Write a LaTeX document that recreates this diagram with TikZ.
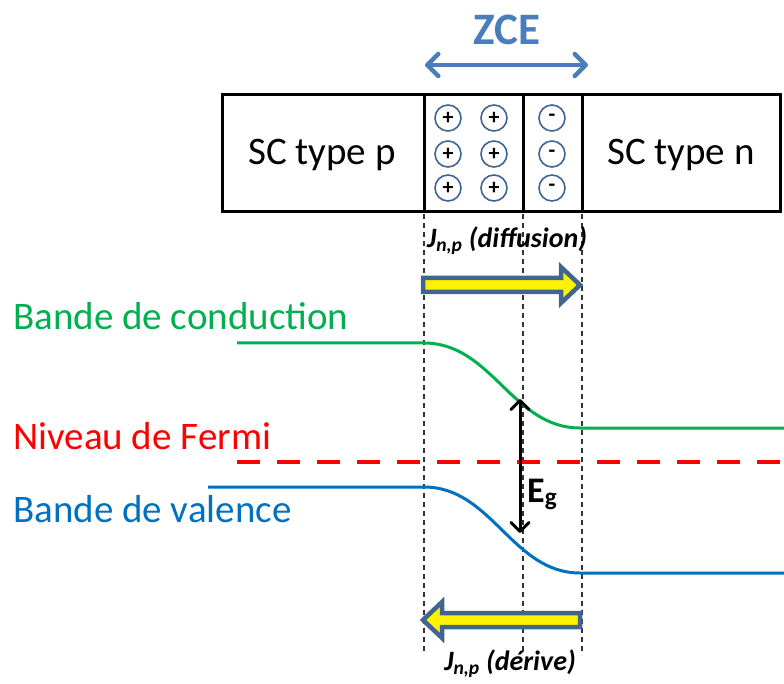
\documentclass[tikz,border=0pt]{standalone}
\usepackage{fontspec}
\setmainfont{Carlito}
\usetikzlibrary{arrows.meta}
\definecolor{zceblue}{HTML}{4A7EBB}
\definecolor{circblue}{HTML}{3F6596}
\definecolor{arrblue}{HTML}{41658F}
\definecolor{cgreen}{HTML}{00B050}
\definecolor{vblue}{HTML}{0070C0}
\definecolor{fred}{HTML}{FF0000}
\begin{document}
\begin{tikzpicture}[x=1pt,y=-1pt,
  lbl/.style={font=\fontsize{39}{44}\selectfont, inner sep=0pt},
  chg/.style={circle, draw=circblue, line width=1.6pt, minimum size=26pt, inner sep=0pt, font=\fontsize{22}{22}\selectfont\bfseries},
  guide/.style={draw=black!80, line width=1.2pt, dash pattern=on 5pt off 4pt},
  jlbl/.style={font=\fontsize{28}{30}\selectfont\bfseries\itshape, inner sep=0pt},
  blockarr/.style={draw=arrblue, fill=yellow, line width=4.5pt, line join=miter},
  band/.style={line width=3pt}
]
\useasboundingbox (0,0) rectangle (784,684);

% ZCE
\node[font=\fontsize{45}{50}\selectfont\bfseries, text=zceblue, inner sep=0pt] (zce) at (507,30) {ZCE};
\coordinate (zl) at (425,65);
\coordinate (zr) at (588,65);
\draw[zceblue, line width=4.5pt, line cap=round, {Straight Barb[length=11pt,width=22pt,line cap=round,line join=round]}-{Straight Barb[length=11pt,width=22pt,line cap=round,line join=round]}] (zl) -- (zr);

% box
\draw[line width=3pt] (222,95) rectangle (780,212);
\draw[line width=3pt] (424,95) -- (424,212);
\draw[line width=3pt] (523,95) -- (523,212);
\draw[line width=3pt] (582,95) -- (582,212);
\node[lbl] (scp) at (322,155) {SC type p};
\node[lbl] (scn) at (681,155) {SC type n};

% charges
\foreach \x/\n in {448/a,494/b}{
  \foreach \y/\m in {118/1,154/2,188/3}{
    \node[chg] (p\n\m) at (\x,\y) {+};
  }
}
\foreach \y/\m in {118/1,154/2,188/3}{
  \node[chg] (m\m) at (552,\y) {-};
}

% guides
\draw[guide] (424,214) -- (424,655);
\draw[guide] (523,214) -- (523,655);
\draw[guide] (582,214) -- (582,655);

% J labels
\node[jlbl] (jdiff) at (507,241) {J\textsubscript{n,p} (diffusion)};
\node[jlbl] (jder) at (510,664) {J\textsubscript{n,p} (dérive)};

% block arrows
\draw[blockarr] (423,278) -- (561,278) -- (561,267) -- (580,285) -- (561,303) -- (561,292) -- (423,292) -- cycle;
\draw[blockarr] (580,613) -- (442,613) -- (442,602) -- (423,620) -- (442,638) -- (442,627) -- (580,627) -- cycle;

% band labels
\node[lbl, text=cgreen, anchor=base west] (lbc) at (13,330) {Bande de conduction};
\node[lbl, text=fred, anchor=base west] (lfermi) at (13,449) {Niveau de Fermi};
\node[lbl, text=vblue, anchor=base west] (lbv) at (13,522) {Bande de valence};

% bands
\draw[band, cgreen] (237,343) -- (424,343) .. controls (492,343) and (512,428) .. (580,428) -- (784,428);
\draw[band, fred, line width=4.5pt, dash pattern=on 23pt off 17pt] (237,462) -- (784,462);
\draw[band, vblue] (208,487) -- (424,487) .. controls (492,487) and (512,573) .. (580,573) -- (784,573);

% Eg
\coordinate (egt) at (520,399);
\coordinate (egb) at (520,533);
\draw[line width=3pt, line cap=round, {Straight Barb[length=9pt,width=18pt,line cap=round,line join=round]}-{Straight Barb[length=9pt,width=18pt,line cap=round,line join=round]}] (egt) -- (egb);
\node[font=\fontsize{36}{40}\selectfont\bfseries, inner sep=0pt, anchor=base west] (eg) at (527,502) {E\textsubscript{g}};
\end{tikzpicture}
\end{document}
